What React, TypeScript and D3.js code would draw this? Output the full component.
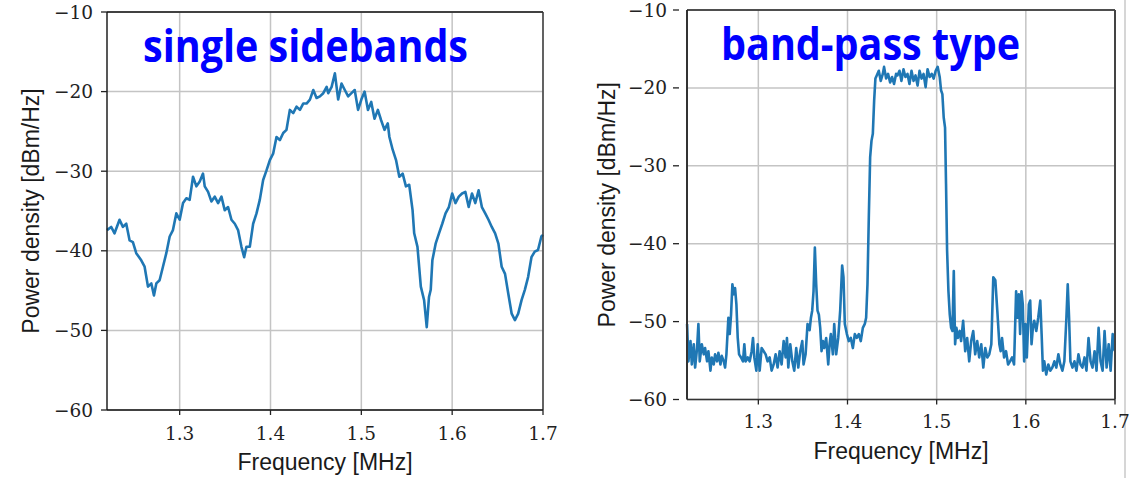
import React from 'react';
import * as d3 from 'd3';

const xTicks = [1.3, 1.4, 1.5, 1.6, 1.7];
const yTicks = [-60, -50, -40, -30, -20, -10];
const xDomain = [1.22, 1.7];
const yDomain = [-60, -10];

const titles = ['single sidebands', 'band-pass type'];
const xLabel = 'Frequency [MHz]';
const yLabel = 'Power density [dBm/Hz]';

const sidebandFreq = [
  1.2200, 1.2246, 1.2283, 1.2338, 1.2375, 1.2412, 1.2449, 1.2485, 1.2522, 1.2577,
  1.2614, 1.2651, 1.2688, 1.2717, 1.2743, 1.2779, 1.2816, 1.2853, 1.2890, 1.2926,
  1.2963, 1.3000, 1.3037, 1.3074, 1.3110, 1.3147, 1.3184, 1.3221, 1.3257, 1.3276,
  1.3313, 1.3349, 1.3386, 1.3423, 1.3460, 1.3496, 1.3533, 1.3570, 1.3607, 1.3643,
  1.3680, 1.3710, 1.3735, 1.3772, 1.3809, 1.3846, 1.3882, 1.3919, 1.3956, 1.3993,
  1.4029, 1.4066, 1.4103, 1.4140, 1.4176, 1.4213, 1.4250, 1.4287, 1.4324, 1.4360,
  1.4397, 1.4434, 1.4471, 1.4507, 1.4544, 1.4581, 1.4618,
  1.4636, 1.4673, 1.4709, 1.4745, 1.4782, 1.4818, 1.4855, 1.4891, 1.4927, 1.4964,
  1.5000, 1.5036, 1.5073, 1.5109, 1.5145, 1.5182, 1.5218, 1.5255, 1.5291, 1.5309,
  1.5345, 1.5382, 1.5418, 1.5455, 1.5491, 1.5527, 1.5564, 1.5582, 1.5618, 1.5655,
  1.5691, 1.5720, 1.5745, 1.5764, 1.5782, 1.5818, 1.5855, 1.5891, 1.5927, 1.5964,
  1.6000, 1.6036, 1.6073, 1.6109, 1.6145, 1.6182, 1.6218, 1.6255, 1.6291, 1.6327,
  1.6364, 1.6400, 1.6436, 1.6473, 1.6509, 1.6545, 1.6582, 1.6618, 1.6655, 1.6691,
  1.6727, 1.6764, 1.6800, 1.6836, 1.6873, 1.6909, 1.6945, 1.6982, 1.7000,
];
const sidebandPower = [
  -37.4, -37.0, -37.8, -36.1, -37.0, -36.6, -38.7, -38.9, -40.3, -41.2,
  -42.0, -44.5, -44.1, -45.6, -44.1, -43.7, -42.0, -40.3, -38.2, -37.4,
  -35.3, -36.1, -34.0, -33.4, -33.6, -30.7, -31.9, -31.3, -30.3, -31.9,
  -32.6, -33.8, -33.2, -34.0, -33.2, -34.9, -34.5, -36.1, -36.6, -37.4,
  -39.5, -40.8, -39.5, -39.5, -36.6, -35.3, -33.6, -31.1, -29.9, -28.6,
  -27.8, -25.7, -26.1, -25.2, -24.8, -22.3, -22.7, -21.9, -22.3, -21.5,
  -21.5, -21.0, -19.8, -20.8, -20.6, -20.2, -19.4,
  -20.2, -19.4, -17.7, -21.0, -19.0, -19.8, -20.6, -20.2, -19.8, -22.3,
  -21.0, -20.0, -22.3, -21.3, -23.4, -22.3, -23.6, -24.8, -24.0, -25.7,
  -27.3, -28.6, -30.7, -30.3, -31.9, -31.7, -34.9, -37.8, -39.5, -44.5,
  -46.2, -49.6, -45.8, -44.9, -41.2, -39.1, -37.8, -36.6, -35.3, -34.5,
  -32.8, -34.0, -33.2, -32.8, -32.6, -34.5, -32.8, -34.0, -32.4, -34.5,
  -35.3, -36.1, -37.0, -37.8, -39.1, -42.0, -42.9, -45.4, -47.9, -48.7,
  -47.9, -46.2, -44.9, -43.3, -40.8, -40.1, -39.9, -38.2, -38.0,
];

const bandpassFreq = [
  1.2201, 1.2216, 1.2239, 1.2254, 1.2276, 1.2291, 1.2313, 1.2328, 1.2343, 1.2366,
  1.2388, 1.2403, 1.2425, 1.2440, 1.2463, 1.2478, 1.2500, 1.2515, 1.2537, 1.2552,
  1.2575, 1.2590, 1.2612, 1.2627, 1.2642, 1.2664, 1.2679, 1.2694, 1.2709, 1.2724,
  1.2739, 1.2754, 1.2769, 1.2784, 1.2806, 1.2828, 1.2843, 1.2858, 1.2881, 1.2903,
  1.2925, 1.2940, 1.2955, 1.2978, 1.2993, 1.3015, 1.3037, 1.3060, 1.3082, 1.3104,
  1.3127, 1.3149, 1.3172, 1.3194, 1.3216, 1.3239, 1.3261, 1.3284, 1.3306, 1.3321,
  1.3336, 1.3358, 1.3381, 1.3403, 1.3425, 1.3448, 1.3470, 1.3493, 1.3507, 1.3530,
  1.3552, 1.3575, 1.3590, 1.3604, 1.3619, 1.3634, 1.3649, 1.3664, 1.3679, 1.3694,
  1.3709, 1.3724, 1.3739, 1.3761, 1.3784, 1.3799, 1.3813, 1.3836, 1.3851, 1.3873,
  1.3896, 1.3918, 1.3940, 1.3955, 1.3970, 1.3993, 1.4015, 1.4037, 1.4060, 1.4082,
  1.4104, 1.4127, 1.4149, 1.4172, 1.4194, 1.4209, 1.4224, 1.4239, 1.4254, 1.4269,
  1.4284, 1.4299, 1.4313, 1.4328, 1.4351, 1.4373, 1.4396, 1.4410, 1.4433, 1.4455,
  1.4478, 1.4500, 1.4522, 1.4545,
  1.4560, 1.4583, 1.4605, 1.4628, 1.4650, 1.4673, 1.4695, 1.4718, 1.4741, 1.4763,
  1.4786, 1.4808, 1.4831, 1.4853, 1.4876, 1.4898, 1.4921, 1.4944, 1.4966, 1.4989,
  1.5011, 1.5034, 1.5049, 1.5064, 1.5079, 1.5094, 1.5105, 1.5117, 1.5132, 1.5147,
  1.5162, 1.5177, 1.5192, 1.5207, 1.5222, 1.5237, 1.5259, 1.5274, 1.5297, 1.5320,
  1.5342, 1.5365, 1.5387, 1.5410, 1.5432, 1.5455, 1.5477, 1.5500, 1.5523, 1.5545,
  1.5568, 1.5590, 1.5613, 1.5635, 1.5658, 1.5680, 1.5703, 1.5718, 1.5733, 1.5756,
  1.5778, 1.5801, 1.5823, 1.5846, 1.5868, 1.5891, 1.5906, 1.5921, 1.5936, 1.5951,
  1.5966, 1.5981, 1.5996, 1.6011, 1.6034, 1.6049, 1.6064, 1.6079, 1.6094, 1.6117,
  1.6139, 1.6162, 1.6177, 1.6192, 1.6207, 1.6229, 1.6252, 1.6274, 1.6297, 1.6320,
  1.6342, 1.6365, 1.6387, 1.6410, 1.6432, 1.6455, 1.6470, 1.6485, 1.6500, 1.6523,
  1.6545, 1.6568, 1.6590, 1.6613, 1.6635, 1.6658, 1.6680, 1.6703, 1.6726, 1.6748,
  1.6771, 1.6793, 1.6816, 1.6838, 1.6861, 1.6883, 1.6906, 1.6929, 1.6951, 1.6974,
  1.6996,
];
const bandpassPower = [
  -50.3, -55.1, -52.5, -55.5, -52.9, -55.9, -53.4, -50.3, -55.1, -52.9,
  -54.2, -53.4, -55.1, -53.8, -56.3, -54.6, -55.5, -54.2, -55.1, -54.0,
  -55.5, -54.4, -55.1, -55.9, -54.2, -49.5, -51.6, -49.1, -45.2, -46.5,
  -45.7, -47.8, -52.1, -54.2, -54.6, -55.1, -52.9, -55.1, -54.6, -55.1,
  -53.8, -52.1, -54.6, -56.3, -52.9, -56.3, -53.4, -53.8, -54.2, -55.1,
  -54.6, -56.3, -55.5, -54.2, -55.9, -53.8, -55.5, -52.5, -54.6, -52.1,
  -55.9, -52.9, -55.1, -56.3, -53.4, -55.9, -53.8, -52.5, -55.5, -54.2,
  -50.3, -51.1, -49.5, -48.6, -46.1, -40.5, -45.2, -48.6, -49.1, -50.8,
  -53.8, -52.5, -53.4, -52.1, -55.5, -52.9, -51.6, -54.2, -50.3, -54.2,
  -52.1, -48.6, -42.8, -44.3, -50.3, -51.6, -52.5, -52.1, -53.4, -51.6,
  -52.1, -51.6, -52.5, -50.8, -50.3, -49.5, -45.2, -36.6, -28.9, -26.8,
  -25.9, -21.6, -18.8, -18.4, -17.8, -19.1, -18.2, -17.3, -18.8, -18.2,
  -19.3, -18.6, -19.5, -18.2,
  -18.4, -17.8, -19.1, -17.6, -18.6, -18.2, -19.5, -17.8, -19.1, -18.4,
  -19.7, -17.8, -18.8, -18.2, -19.9, -17.6, -18.6, -18.2, -18.8, -17.8,
  -17.3, -18.6, -20.3, -20.8, -23.8, -25.1, -32.3, -40.9, -46.1, -49.1,
  -50.8, -51.2, -43.5, -52.9, -50.8, -52.1, -51.2, -52.5, -49.9, -53.8,
  -52.1, -55.1, -52.5, -51.2, -54.2, -52.5, -54.6, -52.9, -55.9, -53.4,
  -54.6, -54.2, -52.9, -44.3, -44.7, -48.6, -52.9, -53.8, -52.1, -54.6,
  -53.8, -55.5, -55.1, -54.6, -55.5, -46.1, -49.5, -46.5, -51.6, -46.1,
  -47.8, -55.1, -50.3, -54.6, -47.8, -47.3, -52.9, -50.8, -49.9, -51.2,
  -49.5, -47.3, -51.6, -56.3, -55.1, -56.8, -55.5, -56.3, -55.9, -55.1,
  -55.9, -54.2, -55.5, -56.3, -55.1, -49.5, -45.2, -49.5, -55.1, -55.9,
  -55.1, -56.3, -54.2, -55.5, -55.9, -54.6, -56.3, -52.1, -55.1, -55.9,
  -53.8, -56.3, -50.8, -55.1, -56.3, -51.2, -55.9, -52.9, -56.3, -51.6,
  -53.8,
];

const fmtY = (v: number) => (v < 0 ? '\u2212' + Math.abs(v) : String(v));
const fmtX = d3.format('.1f');

type PanelProps = {
  left: number; right: number; top: number; bottom: number;
  freq: number[]; power: number[];
  title: string; titleX: number; titleY: number; titleLen: number;
  yTickLabelX: number; yTickMark: [number, number];
  xTickLabelY: number; xTickLen: number;
  xLabelY: number; yLabelX: number;
  leftSpine: { color: string; width: number };
  topSpine: { color: string; width: number };
  rightSpine: { color: string; width: number };
  bottomSpine: { color: string; width: number };
};

function Panel(p: PanelProps) {
  const x = d3.scaleLinear().domain(xDomain).range([p.left, p.right]);
  const y = d3.scaleLinear().domain(yDomain).range([p.bottom, p.top]);
  const pts = p.freq.map((f, i) => [f, p.power[i]] as [number, number]);
  const line = d3.line<[number, number]>().x(d => x(d[0])).y(d => y(d[1]));
  const tickFont = "'DejaVu Serif', serif";
  const labelFont = "'Liberation Sans', Arial, sans-serif";
  return (
    <g>
      {xTicks.map(t => (
        <line key={'gx' + t} x1={x(t)} x2={x(t)} y1={p.top} y2={p.bottom} stroke="#c4c4c4" strokeWidth={1.5} />
      ))}
      {yTicks.map(t => (
        <line key={'gy' + t} x1={p.left} x2={p.right} y1={y(t)} y2={y(t)} stroke="#c4c4c4" strokeWidth={1.5} />
      ))}
      <path d={line(pts) || ''} fill="none" stroke="#1f77b4" strokeWidth={2.6} strokeLinejoin="round" />
      <line x1={p.left} x2={p.left} y1={p.top} y2={p.bottom} stroke={p.leftSpine.color} strokeWidth={p.leftSpine.width} />
      <line x1={p.left} x2={p.right} y1={p.top} y2={p.top} stroke={p.topSpine.color} strokeWidth={p.topSpine.width} />
      <line x1={p.right} x2={p.right} y1={p.top} y2={p.bottom} stroke={p.rightSpine.color} strokeWidth={p.rightSpine.width} />
      <line x1={p.left} x2={p.right} y1={p.bottom} y2={p.bottom} stroke={p.bottomSpine.color} strokeWidth={p.bottomSpine.width} />
      {yTicks.map(t => (
        <g key={'ty' + t}>
          <line x1={p.yTickMark[0]} x2={p.yTickMark[1]} y1={y(t)} y2={y(t)} stroke="#222" strokeWidth={1.3} />
          <text x={p.yTickLabelX} y={y(t)} textAnchor="end" dominantBaseline="central"
            fontFamily={tickFont} fontSize={18.5} fill="#222">{fmtY(t)}</text>
        </g>
      ))}
      {xTicks.map(t => (
        <g key={'tx' + t}>
          <line x1={x(t)} x2={x(t)} y1={p.bottom} y2={p.bottom + p.xTickLen} stroke="#222" strokeWidth={1.3} />
          <text x={x(t)} y={p.xTickLabelY} textAnchor="middle" dominantBaseline="central"
            fontFamily={tickFont} fontSize={18.5} fill="#222">{fmtX(t)}</text>
        </g>
      ))}
      <text x={(p.left + p.right) / 2} y={p.xLabelY} textAnchor="middle" dominantBaseline="central"
        fontFamily={labelFont} fontSize={23} fill="#1a1a1a">{xLabel}</text>
      <text transform={`translate(${p.yLabelX},${(p.top + p.bottom) / 2}) rotate(-90)`} textAnchor="middle"
        dominantBaseline="central" fontFamily={labelFont} fontSize={23} fill="#1a1a1a">{yLabel}</text>
      <text x={p.titleX} y={p.titleY} fontFamily="'Open Sans', sans-serif" fontWeight={700} fontSize={44}
        fill="#0000ff" textLength={p.titleLen} lengthAdjust="spacingAndGlyphs">{p.title}</text>
    </g>
  );
}

export default function App() {
  return (
    <svg width={1139} height={478} style={{ position: 'absolute', left: 0, top: 0, background: '#fff' }}>
      <rect x={0} y={0} width={1139} height={478} fill="#fff" />
      <line x1={1125} x2={1125} y1={0} y2={478} stroke="#d6d6d6" strokeWidth={2} />
      <Panel
        left={107} right={543} top={12} bottom={410}
        freq={sidebandFreq} power={sidebandPower}
        title={titles[0]} titleX={143} titleY={62} titleLen={325}
        yTickLabelX={93} yTickMark={[101, 107]}
        xTickLabelY={433} xTickLen={5}
        xLabelY={462} yLabelX={31}
        leftSpine={{ color: '#111', width: 1.4 }}
        topSpine={{ color: '#111', width: 1.4 }}
        rightSpine={{ color: '#333', width: 1.4 }}
        bottomSpine={{ color: '#111', width: 1.4 }}
      />
      <Panel
        left={687} right={1115} top={10} bottom={399.5}
        freq={bandpassFreq} power={bandpassPower}
        title={titles[1]} titleX={721} titleY={60} titleLen={299}
        yTickLabelX={667} yTickMark={[673, 679]}
        xTickLabelY={421.5} xTickLen={5}
        xLabelY={451} yLabelX={607}
        leftSpine={{ color: '#333', width: 2 }}
        topSpine={{ color: '#222', width: 1.6 }}
        rightSpine={{ color: '#444', width: 2 }}
        bottomSpine={{ color: '#333', width: 1.6 }}
      />
    </svg>
  );
}
